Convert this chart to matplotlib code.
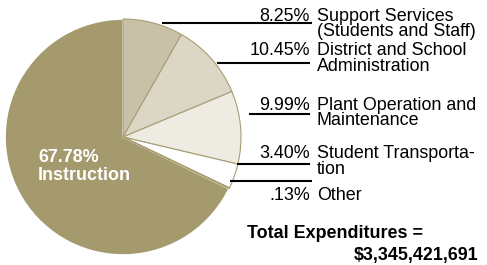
import matplotlib
matplotlib.use("Agg")
import matplotlib.pyplot as plt

# slices, clockwise from 12 o'clock
shares = [8.25, 10.45, 9.99, 3.40, 0.13, 67.78]
pct_text = ["8.25%", "10.45%", "9.99%", "3.40%", ".13%"]
names = ["Support Services\n(Students and Staff)",
         "District and School\nAdministration",
         "Plant Operation and\nMaintenance",
         "Student Transporta-\ntion",
         "Other"]
colors = ["#c9c1a7", "#dcd6c5", "#edebe2", "#ffffff", "#ffffff", "#a59a6e"]
total_text = "$3,345,421,691"

W, H = 487, 265
fig = plt.figure(figsize=(W / 100, H / 100), dpi=100)
ax = fig.add_axes([0, 0, 1, 1])
plt.rcParams['font.family'] = ['Liberation Sans', 'DejaVu Sans']

cx, cy, r = 123, H - 137, 118
wedges, _ = ax.pie(shares, colors=colors, startangle=90, counterclock=False,
                   center=(cx, cy), radius=r,
                   wedgeprops=dict(edgecolor="#a89d74", linewidth=0.8))
# big slice gets a white rim so it looks cut off from its neighbours
wedges[-1].set_edgecolor("white")
wedges[-1].set_linewidth(1.2)
wedges[-1].set_zorder(0.9)

ax.set_xlim(0, W)
ax.set_ylim(0, H)
ax.set_aspect("auto")
ax.axis("off")

# leader lines: (y, x start, x end) in pixels from top-left
leaders = [(23, 162, 312), (63, 217, 310), (114, 249, 310),
           (164, 237, 310), (181, 230, 312)]
for y, x0, x1 in leaders:
    ax.plot([x0, x1], [H - y, H - y], color="black", lw=1.5,
            solid_capstyle="butt")

# label baselines (first line) in pixels from top
baselines = [20.7, 55, 109.5, 158.5, 200]
fs = 12.9
step = 15.7
for p, name, b in zip(pct_text, names, baselines):
    ax.text(310, H - b, p, ha="right", va="baseline", fontsize=fs)
    for i, line in enumerate(name.split("\n")):
        ax.text(317, H - b - i * step, line, ha="left", va="baseline",
                fontsize=fs)

ax.text(38, H - 161.7, "67.78%", color="white", fontweight="bold",
        fontsize=fs, ha="left", va="baseline")
ax.text(38, H - 180, "Instruction", color="white", fontweight="bold",
        fontsize=fs, ha="left", va="baseline")

ax.text(247, H - 238.3, "Total Expenditures =", fontweight="bold",
        fontsize=fs, ha="left", va="baseline")
ax.text(478, H - 260, total_text, fontweight="bold",
        fontsize=fs, ha="right", va="baseline")

fig.savefig("out.png", dpi=100)
